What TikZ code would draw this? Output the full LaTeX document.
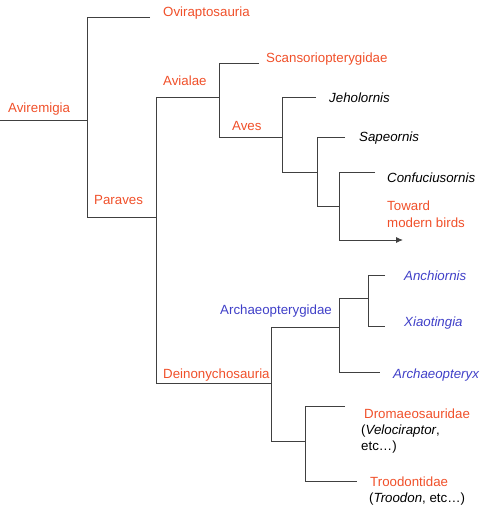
\documentclass[tikz,border=0pt]{standalone}
\usepackage{fontspec}
\setmainfont{Liberation Sans}
\usetikzlibrary{arrows.meta}
\definecolor{cred}{HTML}{F0502A}
\definecolor{cblue}{HTML}{4040C8}
\definecolor{cline}{HTML}{404040}
\begin{document}
\begin{tikzpicture}[x=1pt,y=-1pt,
  lbl/.style={anchor=base west,inner sep=0pt,font=\fontsize{13.3}{16}\selectfont},
  red/.style={lbl,text=cred},
  blue/.style={lbl,text=cblue,font=\fontsize{13.3}{16}\selectfont\itshape},
  blk/.style={lbl,text=black,font=\fontsize{13.3}{16}\selectfont\itshape},
  branch/.style={draw=cline,line width=0.9pt}]
\useasboundingbox (0,0) rectangle (500,510);
% coordinates
\coordinate (root) at (0,120);
\coordinate (n1t) at (87,17);
\coordinate (n1b) at (87,217);
\coordinate (n1) at (87,120);
\coordinate (ovi) at (150,17);
\coordinate (n2t) at (156,97);
\coordinate (n2b) at (156,383);
\coordinate (n3t) at (219,63);
\coordinate (n3b) at (219,137);
\coordinate (scan) at (259,63);
\coordinate (n4t) at (282,97);
\coordinate (n4b) at (282,172);
\coordinate (jeh) at (316,97);
\coordinate (n5t) at (317,137);
\coordinate (n5b) at (317,206);
\coordinate (sap) at (345,137);
\coordinate (n6t) at (339,172);
\coordinate (n6b) at (339,240);
\coordinate (conf) at (375,172);
\coordinate (mod) at (403,240);
\coordinate (n7t) at (271,327);
\coordinate (n7b) at (271,441);
\coordinate (n8t) at (339,298);
\coordinate (n8b) at (339,372);
\coordinate (arx) at (380,372);
\coordinate (n9t) at (368,275);
\coordinate (n9b) at (368,326);
\coordinate (anc) at (385,275);
\coordinate (xia) at (385,326);
\coordinate (n10t) at (305,406);
\coordinate (n10b) at (305,481);
\coordinate (dro) at (345,406);
\coordinate (tro) at (357,481);
% branches
\draw[branch] (root) -- (n1);
\draw[branch] (ovi) -- (n1t) -- (n1b) -- (n2b |- n1b);
\draw[branch] (n3t |- n2t) -- (n2t) -- (n2b) -- (n7t |- n2b);
\draw[branch] (scan) -- (n3t) -- (n3b) -- (n4t |- n3b);
\draw[branch] (jeh) -- (n4t) -- (n4b) -- (n5t |- n4b);
\draw[branch] (sap) -- (n5t) -- (n5b) -- (n6t |- n5b);
\draw[branch] (conf) -- (n6t) -- (n6b);
\draw[branch,-{Latex[length=7pt,width=6pt]}] (n6b) -- (mod);
\draw[branch] (n8t |- n7t) -- (n7t) -- (n7b) -- (n10t |- n7b);
\draw[branch] (n9t |- n8t) -- (n8t) -- (n8b) -- (arx);
\draw[branch] (anc) -- (n9t) -- (n9b) -- (xia);
\draw[branch] (dro) -- (n10t) -- (n10b) -- (tro);
% labels
\node[red] (tAvi) at (8,113) {Aviremigia};
\node[red] (tOvi) at (163,17) {Oviraptosauria};
\node[red] (tAvl) at (163,86) {Avialae};
\node[red] (tPar) at (94,205) {Paraves};
\node[red] (tSca) at (266,63) {Scansoriopterygidae};
\node[red] (tAve) at (232,131) {Aves};
\node[blk] (tJeh) at (329,103) {Jeholornis};
\node[blk] (tSap) at (359,142) {Sapeornis};
\node[blk] (tCon) at (387,183) {Confuciusornis};
\node[red] (tTow) at (387,211) {Toward};
\node[red] (tMod) at (387,227) {modern birds};
\node[blue,font=\fontsize{13.3}{16}\selectfont] (tArg) at (220,314) {Archaeopterygidae};
\node[red] (tDei) at (163,378) {Deinonychosauria};
\node[blue] (tAnc) at (404,280) {Anchiornis};
\node[blue] (tXia) at (404,326) {Xiaotingia};
\node[blue] (tArx) at (393,378) {Archaeopteryx};
\node[red] (tDro) at (364,418) {Dromaeosauridae};
\node[lbl] (tVel) at (361,434) {(\textit{Velociraptor},};
\node[lbl] (tEtc) at (361,450) {etc\dots)};
\node[red] (tTro) at (370,486) {Troodontidae};
\node[lbl] (tTrd) at (369,502) {(\textit{Troodon}, etc\dots)};
\end{tikzpicture}
\end{document}
